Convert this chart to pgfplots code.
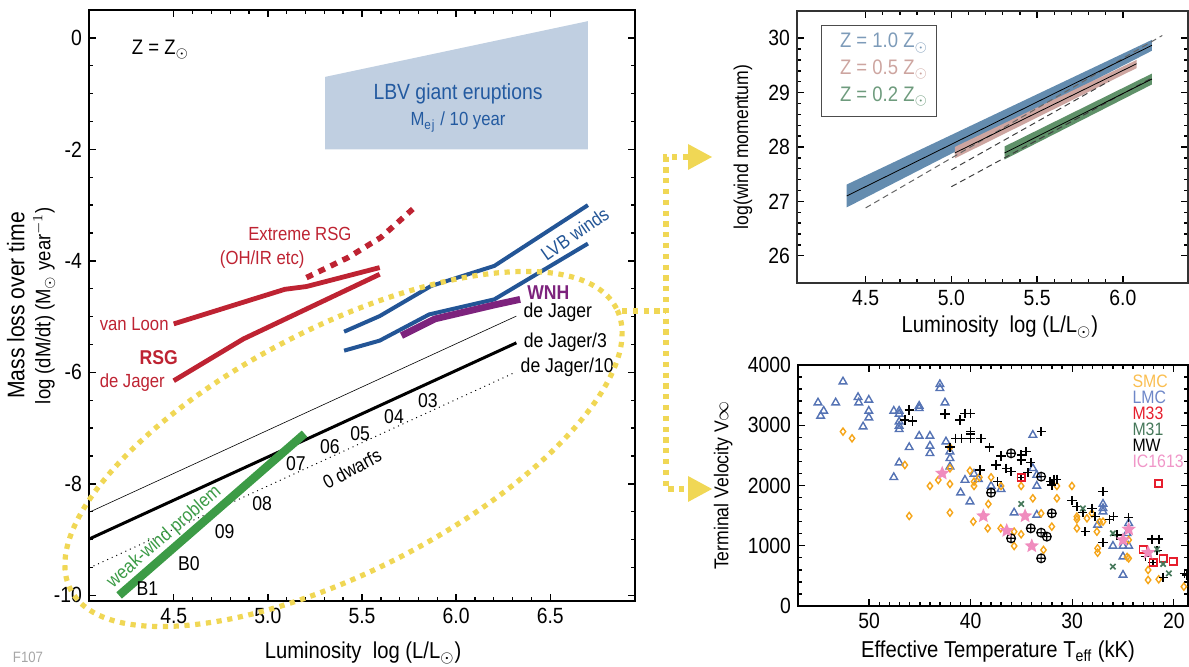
\documentclass[border=0pt]{standalone}
\usepackage{pgfplots}
\pgfplotsset{compat=1.18}
\usepackage{fontspec}
\setmainfont[FakeStretch=0.88]{Liberation Sans}
\definecolor{rsg}{RGB}{190,35,50}
\definecolor{lvb}{RGB}{35,85,150}
\definecolor{wnh}{RGB}{125,35,125}
\definecolor{wwp}{RGB}{60,155,70}
\definecolor{lbvfill}{RGB}{192,207,225}
\definecolor{lbvtext}{RGB}{35,90,160}
\definecolor{ell}{RGB}{240,215,85}
\definecolor{bandA}{RGB}{100,140,175}
\definecolor{bandB}{RGB}{205,165,160}
\definecolor{bandC}{RGB}{95,145,105}
\definecolor{legA}{RGB}{125,155,185}
\definecolor{legB}{RGB}{205,165,160}
\definecolor{legC}{RGB}{110,155,125}
\definecolor{smc}{RGB}{245,165,25}
\definecolor{lmc}{RGB}{85,115,180}
\definecolor{mtt}{RGB}{230,30,45}
\definecolor{mto}{RGB}{70,120,90}
\definecolor{ic}{RGB}{240,140,190}
\definecolor{smcL}{RGB}{250,190,80}
\definecolor{lmcL}{RGB}{110,135,200}
\definecolor{icL}{RGB}{240,150,200}
\newcommand{\fs}[1]{\fontsize{#1}{#1}\selectfont}
\pgfdeclareplotmark{fstar}{%
  \pgfpathmoveto{\pgfqpointpolar{90}{\pgfplotmarksize}}%
  \pgfpathlineto{\pgfqpointpolar{126}{0.45\pgfplotmarksize}}%
  \pgfpathlineto{\pgfqpointpolar{162}{\pgfplotmarksize}}%
  \pgfpathlineto{\pgfqpointpolar{198}{0.45\pgfplotmarksize}}%
  \pgfpathlineto{\pgfqpointpolar{234}{\pgfplotmarksize}}%
  \pgfpathlineto{\pgfqpointpolar{270}{0.45\pgfplotmarksize}}%
  \pgfpathlineto{\pgfqpointpolar{306}{\pgfplotmarksize}}%
  \pgfpathlineto{\pgfqpointpolar{342}{0.45\pgfplotmarksize}}%
  \pgfpathlineto{\pgfqpointpolar{18}{\pgfplotmarksize}}%
  \pgfpathlineto{\pgfqpointpolar{54}{0.45\pgfplotmarksize}}%
  \pgfpathclose\pgfusepathqfill}
\pgfplotsset{
  myaxis/.style={scale only axis, axis line style={line width=0.9pt},
    tick align=inside, major tick length=3.5pt, minor tick length=2pt,
    tick style={line width=0.7pt, black},
    tick label style={font=\fs{11}}, label style={font=\fs{11.5}}, clip=false}
}
\begin{document}
\begin{tikzpicture}
\useasboundingbox (0,0) rectangle (594.5pt,333.5pt);
% ---------------- main panel ----------------
\begin{axis}[myaxis, at={(44.5pt,33pt)}, anchor=south west,
  width=273pt, height=295.5pt,
  xmin=4.05, xmax=6.95, ymin=-10.1, ymax=0.5,
  xtick={4.5,5,5.5,6,6.5}, xticklabels={4.5,5.0,5.5,6.0,6.5}, minor x tick num=4,
  ytick={-10,-8,-6,-4,-2,0}, yticklabels={-10,-8,-6,-4,-2,0}, minor y tick num=3,
  xlabel={Luminosity\ \ log (L/L$_\odot$)},
  xlabel style={at={(axis description cs:0.502,-0.088)}, anchor=center},
  ylabel={{\fs{12}Mass loss over time}\\[1pt]{\fs{10.5}log (dM/dt) (M$_\odot$ year$^{-1}$)}},
  every axis y label/.style={at={(axis description cs:-0.106,0.5)}, rotate=90, anchor=center, align=center},
]
\addplot[draw=none, fill=lbvfill] coordinates {(5.304,-2.0) (5.304,-0.70) (6.70,0.30) (6.70,-2.0) (5.304,-2.0)};
\node[lbvtext, font=\fs{11}] at (axis cs:6.01,-1.01) {LBV giant eruptions};
\node[lbvtext, font=\fs{9.5}] at (axis cs:6.01,-1.51) {M$_{\mathrm{ej}}$ / 10 year};
\node[font=\fs{10.5}] at (axis cs:4.43,-0.21) {Z = Z$_\odot$};
% red
\addplot[rsg, line width=2.4pt] coordinates {(4.50,-5.13) (5.09,-4.51) (5.205,-4.46) (5.594,-4.12)};
\addplot[rsg, line width=2.4pt] coordinates {(4.50,-6.15) (4.87,-5.40) (5.594,-4.24)};
\addplot[rsg, line width=2.8pt, dash pattern=on 3.5pt off 3.2pt] coordinates {(5.205,-4.30) (5.426,-3.94) (5.60,-3.58) (5.77,-3.07)};
\node[rsg, font=\fs{9.5}] at (axis cs:5.17,-3.52) {Extreme RSG};
\node[rsg, font=\fs{9.5}] at (axis cs:4.97,-3.97) {(OH/IR etc)};
\node[rsg, font=\fs{9.5}] at (axis cs:4.29,-5.13) {van Loon};
\node[rsg, font=\bfseries\fs{10}] at (axis cs:4.42,-5.73) {RSG};
\node[rsg, font=\fs{9.5}] at (axis cs:4.28,-6.18) {de Jager};
% blue
\addplot[lvb, line width=2pt] coordinates {(5.405,-5.27) (5.594,-4.99) (5.867,-4.45) (6.203,-4.09) (6.70,-3.00)};
\addplot[lvb, line width=2pt] coordinates {(5.405,-5.61) (5.594,-5.43) (5.857,-4.96) (6.203,-4.69) (6.70,-3.69)};
\node[lvb, font=\fs{9.5}, rotate=35] at (axis cs:6.63,-3.52) {LVB winds};
% purple
\addplot[wnh, line width=3.4pt] coordinates {(5.71,-5.34) (5.888,-5.04) (6.203,-4.79) (6.34,-4.69)};
\node[wnh, font=\bfseries\fs{10}] at (axis cs:6.49,-4.57) {WNH};
% de Jager lines
\addplot[black, line width=0.3pt] coordinates {(4.05,-8.51) (6.32,-4.99)};
\addplot[black, line width=1.5pt] coordinates {(4.05,-8.99) (6.32,-5.47)};
\addplot[black, line width=0.5pt, dotted] coordinates {(4.05,-9.51) (6.30,-6.02)};
\node[font=\fs{10}] at (axis cs:6.54,-4.93) {de Jager};
\node[font=\fs{10}] at (axis cs:6.58,-5.46) {de Jager/3};
\node[font=\fs{10}] at (axis cs:6.59,-5.91) {de Jager/10};
% weak wind
\addplot[wwp, line width=4.2pt] coordinates {(4.21,-10.0) (5.195,-7.10)};
\node[wwp, font=\fs{9.5}, rotate=41] at (axis cs:4.45,-8.955) {weak-wind problem};
% spectral types
\node[font=\fs{10}] at (axis cs:4.36,-9.88) {B1};
\node[font=\fs{10}] at (axis cs:4.58,-9.43) {B0};
\node[font=\fs{10}] at (axis cs:4.77,-8.85) {09};
\node[font=\fs{10}] at (axis cs:4.97,-8.35) {08};
\node[font=\fs{10}] at (axis cs:5.149,-7.63) {07};
\node[font=\fs{10}] at (axis cs:5.33,-7.34) {06};
\node[font=\fs{10}] at (axis cs:5.49,-7.09) {05};
\node[font=\fs{10}] at (axis cs:5.67,-6.79) {04};
\node[font=\fs{10}] at (axis cs:5.85,-6.51) {03};
\node[font=\fs{9.5}, rotate=28] at (axis cs:5.447,-7.73) {0 dwarfs};
\end{axis}
% ---------------- top right panel ----------------
\begin{axis}[myaxis, at={(398.5pt,192pt)}, anchor=south west,
  width=195.5pt, height=136pt, axis line style={line width=0.8pt, black!80},
  xmin=4.1, xmax=6.38, ymin=25.5, ymax=30.5,
  xtick={4.5,5,5.5,6}, xticklabels={4.5,5.0,5.5,6.0}, minor x tick num=4,
  ytick={26,27,28,29,30}, yticklabels={26,27,28,29,30}, minor y tick num=4,
  xlabel={Luminosity\ \ log (L/L$_\odot$)},
  xlabel style={at={(axis description cs:0.519,-0.162)}, anchor=center},
  ylabel={log(wind momentum)},
  every axis y label/.style={at={(axis description cs:-0.138,0.5)}, rotate=90, anchor=center},
]
\addplot[draw=none, fill=bandA] coordinates {(4.39,26.89) (6.17,29.77) (6.17,29.97) (4.39,27.31) (4.39,26.89)};
\addplot[draw=none, fill=bandB] coordinates {(5.02,27.79) (6.08,29.45) (6.08,29.60) (5.02,28.00) (5.02,27.79)};
\addplot[draw=none, fill=bandC] coordinates {(5.31,27.77) (6.17,29.15) (6.17,29.35) (5.31,28.01) (5.31,27.77)};
\addplot[black!60, line width=0.5pt, dash pattern=on 3pt off 2pt] coordinates {(4.5,26.88) (6.23,30.05)};
\addplot[black!75, line width=0.5pt, dash pattern=on 3pt off 2pt] coordinates {(5.0,27.58) (5.92,29.21)};
\addplot[black!75, line width=0.5pt, dash pattern=on 3pt off 2pt] coordinates {(5.0,27.27) (6.17,29.27)};
\addplot[black, line width=0.4pt] coordinates {(4.39,27.10) (6.17,29.87)};
\addplot[black, line width=0.4pt] coordinates {(5.02,27.89) (6.08,29.53)};
\addplot[black, line width=0.4pt] coordinates {(5.31,27.89) (6.17,29.25)};
\draw[black!70, line width=0.6pt] (axis cs:4.245,28.56) rectangle (axis cs:4.914,30.23);
\node[legA, anchor=west, font=\fs{10.5}] at (axis cs:4.31,29.91) {Z = 1.0 Z$_\odot$};
\node[legB, anchor=west, font=\fs{10.5}] at (axis cs:4.31,29.42) {Z = 0.5 Z$_\odot$};
\node[legC, anchor=west, font=\fs{10.5}] at (axis cs:4.31,28.93) {Z = 0.2 Z$_\odot$};
\end{axis}
% ---------------- bottom right panel ----------------
\begin{axis}[myaxis, at={(399pt,30.5pt)}, anchor=south west,
  width=195pt, height=120.5pt, x dir=reverse,
  xmin=18.6, xmax=57, ymin=0, ymax=4000,
  xtick={20,30,40,50}, xticklabels={20,30,40,50}, minor x tick num=9,
  ytick={0,1000,2000,3000,4000}, yticklabels={0,1000,2000,3000,4000}, minor y tick num=4,
  xlabel={Effective Temperature T\textsubscript{eff} (kK)},
  xlabel style={at={(axis description cs:0.513,-0.191)}, anchor=center},
  ylabel={Terminal Velocity V$\infty$},
  every axis y label/.style={at={(axis description cs:-0.192,0.5)}, rotate=90, anchor=center},
]
\addplot[lmc, only marks, mark=triangle, mark size=2.2pt, mark options={line width=0.7pt}] coordinates {
(55.03,3375)(54.77,3154)(54.47,3237)(53.29,3375)(52.57,3724)(51.09,3464)(51.02,3375)(50.03,3420)(50.03,3237)(50.03,3126)(50.59,2977)(47.57,3237)(47.04,3237)(47.04,3187)(47.04,3060)(47.04,2988)(47.04,2932)(47.57,2136)(47.04,2379)(46.05,2634)(45.07,3320)(45.07,3281)(45.07,2822)(44.01,2822)(44.01,2656)(44.01,2534)(43.03,3679)(43.03,3613)(42.53,3375)(42.43,2728)(42.04,2451)(42.04,2313)(42.04,2562)(40.56,2091)(40.99,1881)(40.07,1732)(39.67,2191)(39.24,2102)(37.99,1992)(37.01,1937)(35.72,1549)(33.88,2838)(33.88,2285)(33.49,2174)(33.49,1992)(33.49,1511)(26.97,1693)(26.97,1621)(26.97,1566)(27.50,1345)(25.0,996)(25.0,819)(25.0,515)(25.99,996)(24.61,1206)(24.44,996)(24.44,1372)};
\addplot[smc, only marks, mark=diamond, mark size=1.8pt, mark options={line width=0.7pt}] coordinates {
(52.57,2894)(51.68,2783)(46.48,2340)(46.05,1494)(44.01,1992)(43.19,2091)(42.04,2025)(42.04,1549)(42.04,2634)(42.04,2285)(40.07,2246)(39.67,1992)(39.67,2064)(39.74,1400)(39.14,2136)(38.26,1693)(38.32,1289)(37.99,2136)(37.04,1289)(37.01,1992)(35.72,996)(35.72,1234)(35.03,1992)(35.03,1190)(33.88,1787)(33.06,1538)(32.83,930)(32.01,1317)(31.51,1992)(31.51,1787)(30.03,1992)(29.54,1483)(29.54,1289)(29.54,1438)(28.55,1455)(28.06,1538)(27.57,1234)(27.50,957)(27.50,885)(26.97,1400)(24.44,791)(24.44,1096)(22.53,598)(22.53,432)(21.48,443)(19.01,321)(27.3,1394)(24.6,813)};
\addplot[black, only marks, mark=+, mark size=2.3pt, mark options={line width=0.8pt}] coordinates {
(46.05,3253)(46.48,3087)(45.72,3071)(42.53,3187)(41.05,3087)(40.56,3198)(40.0,3198)(40.0,2894)(40.0,2783)(41.48,2783)(40.89,2783)(38.98,2783)(38.16,2634)(37.01,2490)(37.50,2340)(36.51,2285)(36.02,2230)(35.03,2506)(34.54,2562)(35.03,2423)(34.08,2379)(33.06,2894)(34.38,2213)(37.37,2064)(39.08,2257)(32.17,2064)(31.51,2102)(32.01,2008)(30.03,1748)(29.54,1649)(28.95,1549)(28.72,1234)(28.06,1621)(27.73,1483)(26.97,1898)(26.97,1051)(26.32,1438)(25.92,1483)(25.59,1179)(24.44,1466)(22.14,1107)(21.48,1107)(21.65,918)(21.05,476)(18.95,542)(18.75,515)(22.8,819)(40.0,2850)(31.8,2100)(42.04,2634)(35.03,2130)(22.04,719)};
\addplot[black, only marks, mark=oplus, mark size=2.2pt, mark options={line width=0.6pt}] coordinates {
(37.99,1881)(36.02,2534)(33.06,2147)(32.01,1538)(34.08,1289)(36.02,1123)(33.06,1217)(32.50,1151)(33.06,791)};
\addplot[mtt, only marks, mark=square, mark size=1.8pt, mark options={line width=0.9pt}] coordinates {
(35.03,2130)(21.48,2036)(23.03,941)(22.04,719)(21.05,791)(20.07,736)};
\addplot[mto, only marks, mark=x, mark size=1.9pt, mark options={line width=0.8pt}] coordinates {
(35.03,1693)(28.95,1621)(25.99,1206)(25.99,653)(21.05,697)(20.49,542)(21.65,941)};
\addplot[ic, only marks, mark=fstar, mark size=3.8pt] coordinates {
(42.80,2202)(38.75,1494)(36.45,1250)(34.64,1494)(33.98,996)(25.0,1096)(24.44,1273)(22.53,885)};
\node[smcL, anchor=west, inner sep=0pt, font=\fs{9}] at (axis cs:24.1,3724) {SMC};
\node[lmcL, anchor=west, inner sep=0pt, font=\fs{9}] at (axis cs:24.1,3464) {LMC};
\node[mtt, anchor=west, inner sep=0pt, font=\fs{9}] at (axis cs:24.1,3198) {M33};
\node[mto, anchor=west, inner sep=0pt, font=\fs{9}] at (axis cs:24.1,2933) {M31};
\node[black, anchor=west, inner sep=0pt, font=\fs{9}] at (axis cs:24.1,2668) {MW};
\node[icL, anchor=west, inner sep=0pt, font=\fs{9}] at (axis cs:24.1,2400) {IC1613};
\end{axis}
% ---------------- overlays ----------------
\begin{scope}[x=0.5pt, y=0.5pt]
\draw[ell, line width=2.6pt, dash pattern=on 2.6pt off 2.8pt, rotate around={27.25:(343.5,218)}] (343.5,218) ellipse [x radius=307, y radius=122];
\draw[ell, line width=2.6pt, dash pattern=on 2.6pt off 2.8pt] (622,356) -- (666,356);
\draw[ell, line width=2.6pt, dash pattern=on 2.6pt off 2.8pt] (688,510) -- (666,510) -- (666,178) -- (688,178);
\fill[ell] (688,523) -- (712,510) -- (688,497) -- cycle;
\fill[ell] (688,191) -- (712,178) -- (688,165) -- cycle;
\node[black!35, font=\fs{7.5}] at (28,10) {F107};
\end{scope}
\end{tikzpicture}
\end{document}
